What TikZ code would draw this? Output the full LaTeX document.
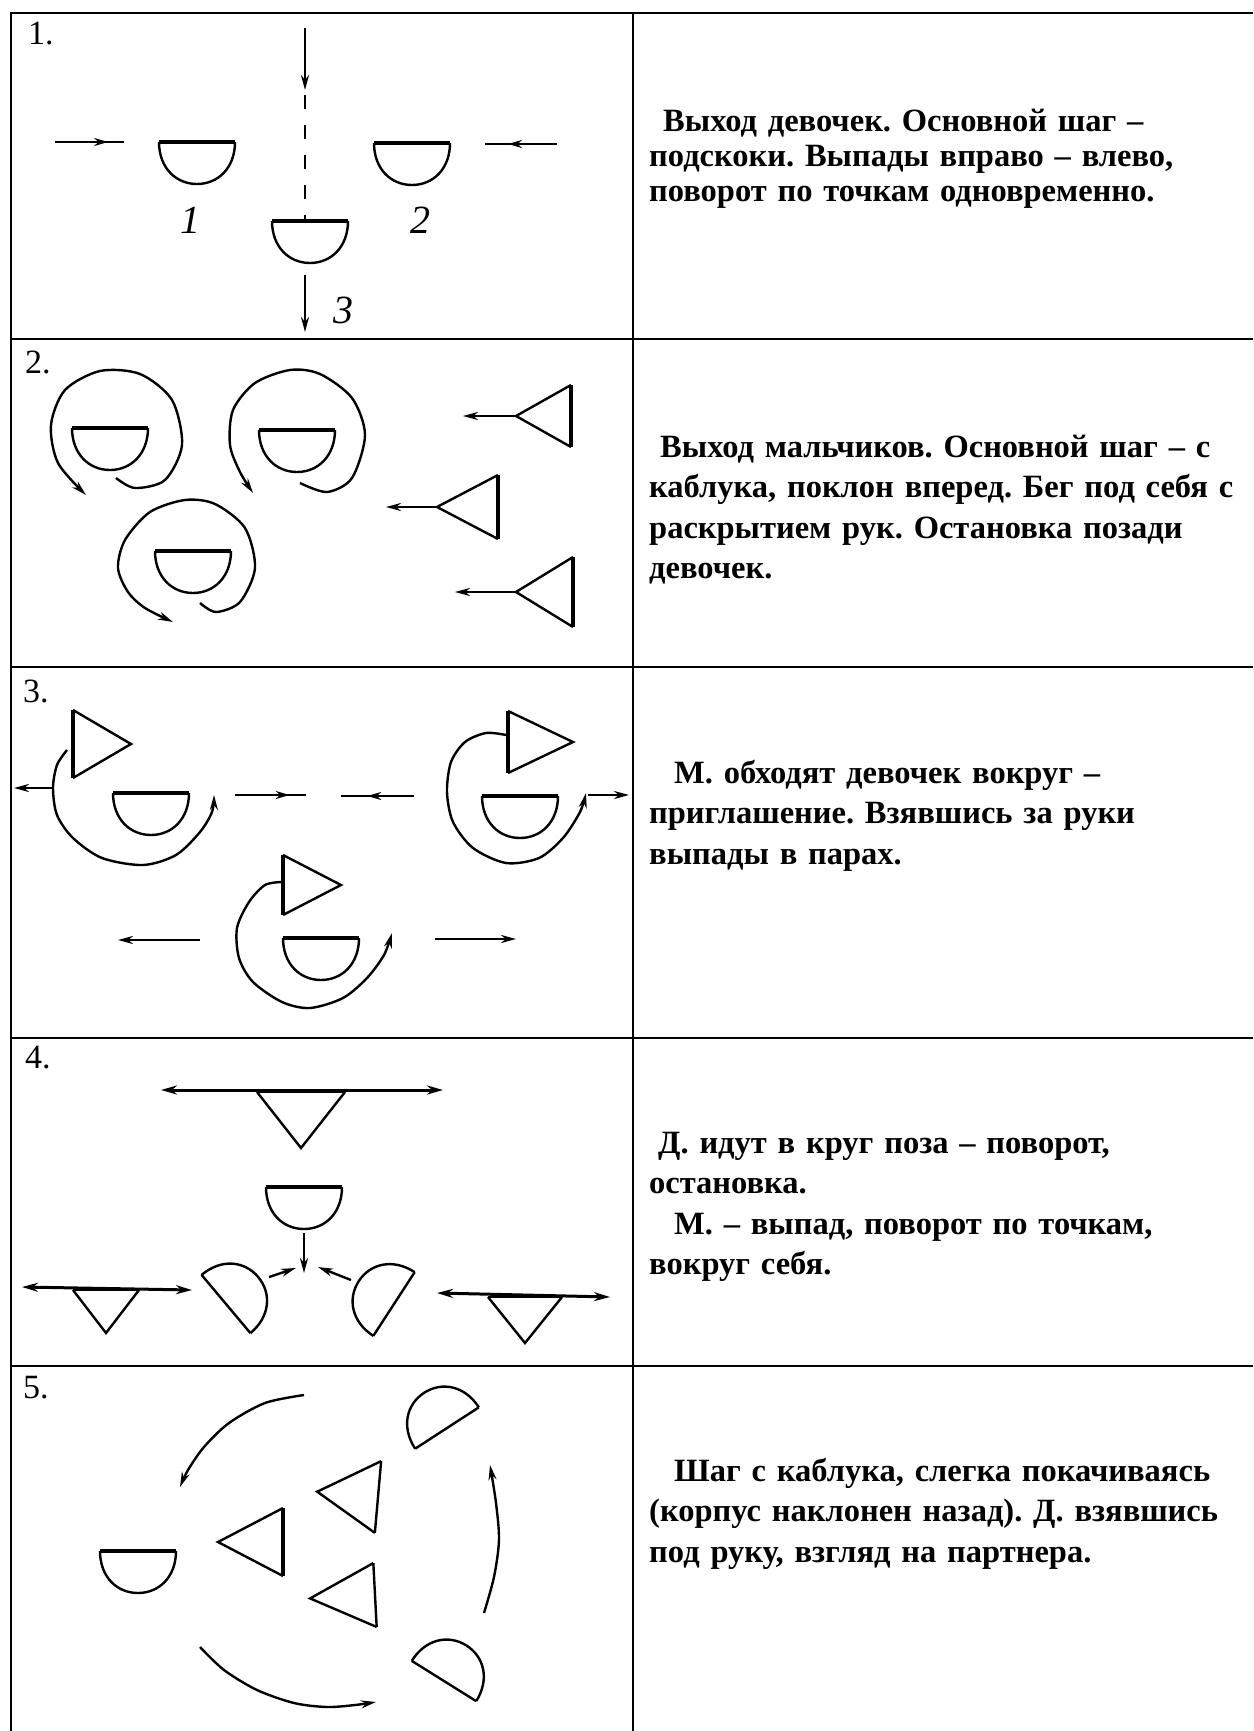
\documentclass[tikz,border=0pt]{standalone}
\usepackage{fontspec}
\setmainfont{Liberation Serif}
\usetikzlibrary{arrows.meta}
\usetikzlibrary{decorations.markings}
\frenchspacing

\begin{document}
\begin{tikzpicture}[
    x=1pt, y=-1pt,
    line width=2.4pt,
    font=\fontsize{34}{40.5}\selectfont
]
\tikzset{
    tableline/.style = {line width=2.4pt},
    front/.style = {line width=4.2pt},
    plain/.style = {front/.style={line width=2.4pt}},
    move/.style = {-{Stealth[length=15pt,width=8pt]}},
    twoway/.style = {line width=3pt, {Stealth[length=16pt,width=9pt]}-{Stealth[length=16pt,width=9pt]}},
    tipat/.style = {postaction={decorate}, decoration={markings,
        mark=at position #1 with {\arrow{Stealth[length=14pt,width=8pt]}}}},
    txt/.style = {anchor=base west, inner sep=0pt, text width=600pt, align=left,
        font=\bfseries\fontsize{32.5}{40.5}\selectfont},
    num/.style = {anchor=base west, inner sep=0pt},
    lbl/.style = {inner sep=0pt, font=\itshape\fontsize{40}{40}\selectfont},
    pics/girl/.style = {code={
        \draw (38,0) .. controls (38,26) and (21,42) .. (0,42)
              .. controls (-21,42) and (-38,26) .. (-38,0);
        \draw[front] (-38,0) -- (38,0);
    }},
    pics/boy/.style 2 args = {code={
        \draw (0,-#1) -- (-#2,0) -- (0,#1);
        \draw[front] (0,-#1) -- (0,#1);
    }}
}
\useasboundingbox (0,0) rectangle (1253,1731);
% table
\draw[tableline] (11,1731) -- (11,13) -- (1253,13);
\foreach \y in {339,667,1038,1366} \draw[tableline] (11,\y) -- (1253,\y);
\draw[tableline] (633,13) -- (633,1731);

% 1
\node[num] (n1) at (27,45) {1.};
\draw[tipat=0.77] (55,142) -- (124,142);
\pic (g11) at (197,142) {girl};
\pic (g12) at (412,143) {girl};
\pic (g13) at (310,221) {girl};
\draw[tipat=0.68] (557,144) -- (485,144);
\draw[move] (305,28) -- (305,90);
\draw[dash pattern=on 14pt off 16pt] (305,95) -- (305,219);
\draw[move] (305,275) -- (305,332);
\node[lbl] (l1) at (190,220) {1};
\node[lbl] (l2) at (420,220) {2};
\node[lbl] (l3) at (343,310) {3};

% 2
\node[num] (n2) at (24,373) {2.};
\pic (g21) at (110,428) {girl};
\pic (g22) at (297,430) {girl};
\pic (g23) at (193,551) {girl};
\draw[move] plot[smooth] coordinates {(116,478) (135,488) (165,480) (182,445) (172,400) (140,374) (100,371) (65,390) (51,425) (58,463) (86,495)};
\draw[move] plot[smooth] coordinates {(300,483) (327,492) (352,478) (365,435) (352,398) (320,374) (290,370) (255,383) (233,410) (230,445) (240,472) (253,493)};
\draw[move] plot[smooth] coordinates {(200,603) (216,612) (240,602) (255,568) (245,528) (215,504) (185,500) (150,512) (125,540) (118,568) (128,592) (145,608) (173,622)};
\pic (b21) at (571,416) {boy={31}{55}};
\draw[move] (516,416) -- (463,416);
\pic (b22) at (498,507) {boy={32}{61}};
\draw[move] (437,507) -- (386,507);
\pic (b23) at (573,592) {boy={35}{57}};
\draw[move] (516,592) -- (455,592);

% 3
\node[num] (n3) at (22,702) {3.};
\pic[rotate=180] (b31) at (73,744) {boy={34}{58}};
\pic (g31) at (151,793) {girl};
\draw[move] plot[smooth] coordinates {(67,750) (57,765) (53,788) (57,815) (73,838) (102,858) (143,865) (176,855) (200,832) (212,812) (214,795)};
\draw[move] (53,788) -- (14,788);
\draw[tipat=0.77] (235,795) -- (306,795);
\draw[tipat=0.64] (414,796) -- (341,796);
\pic[rotate=180] (b32) at (508,742) {boy={31}{65}};
\pic (g32) at (520,796) {girl};
\draw[move] plot[smooth] coordinates {(506,735) (486,733) (465,742) (451,762) (447,792) (453,822) (473,848) (506,863) (539,858) (563,838) (580,812) (586,793)};
\draw[move] (588,795) -- (629,795);
\pic[rotate=180] (b33) at (283,885) {boy={30}{58}};
\pic (g33) at (321,938) {girl};
\draw[move] plot[smooth] coordinates {(282,882) (265,885) (249,902) (237,928) (239,958) (253,982) (282,1002) (310,1008) (343,998) (367,978) (384,955) (392,933)};
\draw[move] (200,940) -- (118,940);
\draw[move] (435,939) -- (516,939);

% 4
\node[num] (n4) at (24,1068) {4.};
\draw[twoway] (161,1090) -- (443,1090);
\pic[plain, rotate=90] (b41) at (301,1092) {boy={44}{56}};
\pic (g41) at (304,1187) {girl};
\draw[move] (304,1233) -- (304,1273);
\draw[move] (269,1277) -- (296,1268);
\draw[move] (351,1280) -- (318,1267);
\pic[plain, rotate=130] (g42) at (226,1304) {girl};
\pic[plain, rotate=237] (g43) at (394,1304) {girl};
\draw[twoway] (22,1287) -- (192,1290);
\pic[plain, rotate=90] (b42) at (106,1290) {boy={33}{43}};
\draw[twoway] (437,1293) -- (610,1297);
\pic[plain, rotate=90] (b43) at (525,1297) {boy={37}{46}};

% 5
\node[num] (n5) at (22,1398) {5.};
\draw[move] plot[smooth] coordinates {(304,1395) (265,1403) (229,1423) (204,1447) (188,1470) (180,1487)};
\pic (g51) at (138,1551) {girl};
\pic (b51) at (283,1542) {boy={34}{65}};
\pic[plain, rotate=-5] (b52) at (378,1497) {boy={36}{61}};
\pic[plain, rotate=3] (b53) at (375,1595) {boy={32}{65}};
\pic[plain, rotate=213] (g52) at (447,1428) {girl};
\pic[plain, rotate=148] (g53) at (444,1681) {girl};
\draw[move] plot[smooth] coordinates {(484,1613) (494,1577) (499,1540) (496,1503) (490,1465)};
\draw[move] plot[smooth] coordinates {(200,1647) (224,1670) (257,1690) (294,1703) (327,1707) (355,1705) (376,1702)};

% texts
\node[txt, font=\bfseries\fontsize{32.5}{35}\selectfont] (t1) at (648,132) {\hspace*{14pt}Выход девочек. Основной шаг –\\подскоки. Выпады вправо – влево,\\поворот по точкам одновременно.};
\node[txt] (t2) at (648,457) {\hspace*{11pt}Выход мальчиков. Основной шаг – с\\каблука, поклон вперед. Бег под себя с\\раскрытием рук. Остановка позади\\девочек.};
\node[txt] (t3) at (648,783) {\hspace*{25pt}М. обходят девочек вокруг –\\приглашение. Взявшись за руки\\выпады в парах.};
\node[txt] (t4) at (648,1153) {\hspace*{9pt}Д. идут в круг поза – поворот,\\остановка.\\\hspace*{25pt}М. – выпад, поворот по точкам,\\вокруг себя.};
\node[txt] (t5) at (648,1481) {\hspace*{25pt}Шаг с каблука, слегка покачиваясь\\(корпус наклонен назад). Д. взявшись\\под руку, взгляд на партнера.};
\end{tikzpicture}
\end{document}
